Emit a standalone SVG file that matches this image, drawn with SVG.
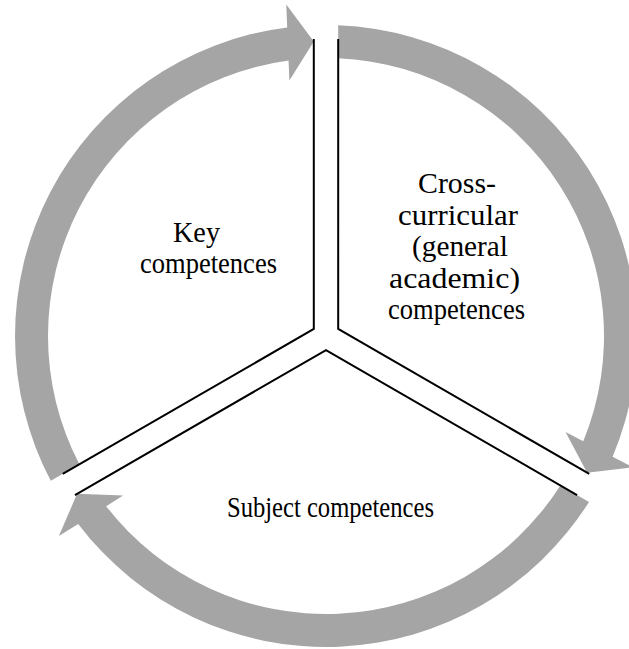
<svg xmlns="http://www.w3.org/2000/svg" width="629" height="649" viewBox="0 0 629 649">
  <defs>
    <style>
      .arrow { fill: #a5a5a5; stroke: none; }
      .edge { fill: none; stroke: #000000; stroke-width: 2; stroke-linejoin: miter; }
      .lbl { font-family: "Liberation Serif", "DejaVu Serif", serif; font-size: 28.5px; fill: #000000; text-anchor: middle; }
    </style>
    <path id="arc" class="arrow" d="M 50.79 480.82 A 311 311 0 0 1 287.19 27.43 L 286.25 4.61 L 313.8 41.5 L 289.39 80.55 L 288.56 60.53 A 278 278 0 0 0 79.38 464.30 Z"/>
    <path id="sector" class="edge" d="M 313.8 39.06 L 313.8 328.96 L 62.74 473.9"/>
  </defs>
  <rect width="629" height="649" fill="#ffffff"/>
  <g id="connectors">
    <use id="arrow-key-to-cross" href="#arc"/>
    <use id="arrow-cross-to-subject" href="#arc" transform="rotate(120 326 336)"/>
    <use id="arrow-subject-to-key" href="#arc" transform="rotate(240 326 336)"/>
  </g>
  <g id="node-key">
    <use href="#sector"/>
    <text class="lbl" x="196.5" y="242" textLength="47" lengthAdjust="spacingAndGlyphs">Key</text>
    <text class="lbl" x="208.5" y="273" textLength="137" lengthAdjust="spacingAndGlyphs">competences</text>
  </g>
  <g id="node-cross">
    <use href="#sector" transform="rotate(120 326 336)"/>
    <text class="lbl" x="457" y="193" textLength="78" lengthAdjust="spacingAndGlyphs">Cross-</text>
    <text class="lbl" x="458" y="224.5" textLength="120" lengthAdjust="spacingAndGlyphs">curricular</text>
    <text class="lbl" x="460" y="256" textLength="96" lengthAdjust="spacingAndGlyphs">(general</text>
    <text class="lbl" x="454.5" y="287.5" textLength="131" lengthAdjust="spacingAndGlyphs">academic)</text>
    <text class="lbl" x="456.5" y="319" textLength="137" lengthAdjust="spacingAndGlyphs">competences</text>
  </g>
  <g id="node-subject">
    <use href="#sector" transform="rotate(240 326 336)"/>
    <text class="lbl" x="330.5" y="517" textLength="207" lengthAdjust="spacingAndGlyphs">Subject competences</text>
  </g>
</svg>
